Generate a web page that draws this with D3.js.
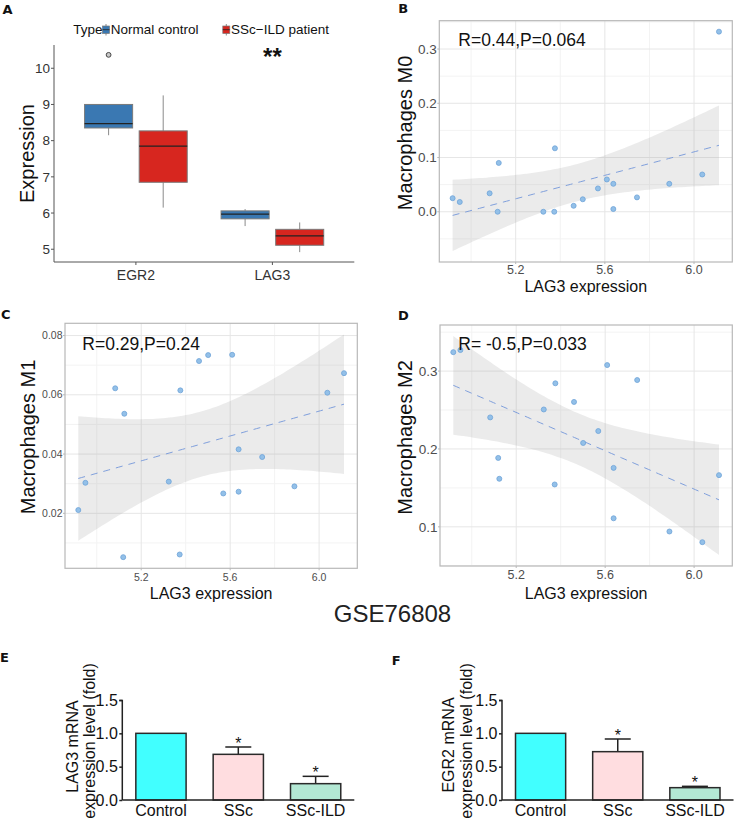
<!DOCTYPE html>
<html><head><meta charset="utf-8">
<script src="https://cdn.jsdelivr.net/npm/d3@7"></script>
<style>
body{margin:0;background:#fff;}
svg{display:block;font-family:"Liberation Sans", Arial, sans-serif;}
</style></head><body>
<svg id="chart" width="736" height="822"></svg>
<script>
// ---------------- DATA ----------------
// Panel A: boxplot summary (order: EGR2-Normal, EGR2-SSc, LAG3-Normal, LAG3-SSc)
const boxGenes = ["EGR2", "LAG3"];
const boxGroups = ["Normal control", "SSc\u2212ILD patient"];
const boxGene = ["EGR2", "EGR2", "LAG3", "LAG3"];
const boxGroup = ["Normal control", "SSc\u2212ILD patient", "Normal control", "SSc\u2212ILD patient"];
const boxLow = [8.15, 6.15, 5.64, 4.92];
const boxQ1 = [8.35, 6.85, 5.84, 5.11];
const boxMedian = [8.47, 7.85, 5.97, 5.37];
const boxQ3 = [9.00, 8.27, 6.06, 5.55];
const boxHigh = [9.00, 9.25, 6.11, 5.74];
const outlierGene = ["EGR2"];
const outlierGroup = ["Normal control"];
const outlierValue = [10.37];
const yTicksA = [5, 6, 7, 8, 9, 10];

// Panels B-D: LAG3 expression vs macrophage fractions (GSE76808)
const lag3Expr = [4.917, 4.949, 5.083, 5.119, 5.124, 5.324, 5.373, 5.376, 5.460, 5.501, 5.569, 5.609, 5.638, 5.638, 5.744, 5.889, 6.037, 6.112];
const macM0 = [0.025, 0.018, 0.034, 0.000, 0.090, 0.000, 0.000, 0.117, 0.011, 0.023, 0.043, 0.0595, 0.0515, 0.005, 0.0265, 0.0515, 0.0687, 0.332];
const macM1 = [0.0211, 0.0303, 0.0622, 0.0052, 0.0536, 0.0307, 0.0061, 0.0615, 0.0714, 0.0734, 0.0267, 0.0735, 0.0416, 0.0273, 0.0390, 0.0291, 0.0607, 0.0673];
const macM2 = [0.3243, 0.3270, 0.2405, 0.1885, 0.1617, 0.2507, 0.1544, 0.2843, 0.2604, 0.2077, 0.2230, 0.3077, 0.1757, 0.1110, 0.2885, 0.0940, 0.0803, 0.1664];
const xTicksScatter = [5.2, 5.6, 6.0];
const xMinorScatter = [5.0, 5.4, 5.8, 6.2];
const yTicksM0 = [0.0, 0.1, 0.2, 0.3];
const yMinorM0 = [-0.05, 0.05, 0.15, 0.25, 0.35];
const yTicksM1 = [0.02, 0.04, 0.06, 0.08];
const yMinorM1 = [0.01, 0.03, 0.05, 0.07];
const yTicksM2 = [0.1, 0.2, 0.3];
const yMinorM2 = [0.05, 0.15, 0.25, 0.35];
const statsText = ["R=0.44,P=0.064", "R=0.29,P=0.24", "R= -0.5,P=0.033"];

// Panels E-F: qPCR fold change
const barCats = ["Control", "SSc", "SSc-ILD"];
const lag3Fold = [1.0, 0.685, 0.245];
const lag3Err = [0, 0.11, 0.11];
const egr2Fold = [1.0, 0.725, 0.185];
const egr2Err = [0, 0.19, 0.02];
const barTicks = [0.0, 0.5, 1.0, 1.5];

// ---------------- DRAW ----------------
const svg = d3.select("#chart");
const colorsA = {"Normal control": "#3a78b2", "SSc\u2212ILD patient": "#d7261f"};
const barColors = ["#41ffff", "#ffdde0", "#b3e8d4"];

function panelLetter(t, x, y) {
  svg.append("text").attr("x", x).attr("y", y).text(t)
    .style("font-family", "'DejaVu Sans', sans-serif").style("font-weight", "bold")
    .style("font-size", "13px").attr("fill", "#111");
}

// ---- Panel A ----
(function () {
  const r = {l: 54, t: 45, r: 354.3, b: 262};
  const g = svg.append("g");
  const all = boxLow.concat(boxHigh, outlierValue);
  const [mn, mx] = d3.extent(all);
  const p = (mx - mn) * 0.05;
  const y = d3.scaleLinear().domain([mn - p, mx + p]).range([r.b, r.t]);
  const x = d3.scalePoint().domain(boxGenes).range([r.l, r.r]).padding(0.6);
  const dodge = d3.scaleBand().domain(boxGroups)
    .range([-0.4 * x.step(), 0.4 * x.step()]).paddingInner(0.12).paddingOuter(0.06);
  const bw = dodge.bandwidth();

  boxGene.forEach((gene, i) => {
    const x0 = x(gene) + dodge(boxGroup[i]);
    const cx = x0 + bw / 2;
    g.append("line").attr("x1", cx).attr("x2", cx).attr("y1", y(boxLow[i])).attr("y2", y(boxQ1[i]))
      .attr("stroke", "#8a8a8a").attr("stroke-width", 1);
    g.append("line").attr("x1", cx).attr("x2", cx).attr("y1", y(boxQ3[i])).attr("y2", y(boxHigh[i]))
      .attr("stroke", "#8a8a8a").attr("stroke-width", 1);
    g.append("rect").attr("x", x0).attr("width", bw).attr("y", y(boxQ3[i]))
      .attr("height", y(boxQ1[i]) - y(boxQ3[i])).attr("fill", colorsA[boxGroup[i]])
      .attr("stroke", "#7a7a7a").attr("stroke-width", 1);
    g.append("line").attr("x1", x0).attr("x2", x0 + bw).attr("y1", y(boxMedian[i])).attr("y2", y(boxMedian[i]))
      .attr("stroke", "#222").attr("stroke-width", 1.3);
  });
  outlierValue.forEach((v, i) => {
    const cx = x(outlierGene[i]) + dodge(outlierGroup[i]) + bw / 2;
    g.append("circle").attr("cx", cx).attr("cy", y(v)).attr("r", 2.4)
      .attr("fill", "#c8c8c8").attr("stroke", "#444").attr("stroke-width", 1);
  });
  // axes
  g.append("line").attr("x1", r.l).attr("x2", r.l).attr("y1", r.t).attr("y2", r.b).attr("stroke", "#555");
  g.append("line").attr("x1", r.l).attr("x2", r.r).attr("y1", r.b).attr("y2", r.b).attr("stroke", "#555");
  yTicksA.forEach(t => {
    g.append("line").attr("x1", r.l - 3).attr("x2", r.l).attr("y1", y(t)).attr("y2", y(t)).attr("stroke", "#555");
    g.append("text").attr("x", r.l - 4).attr("y", y(t)).attr("dy", "0.35em").attr("text-anchor", "end")
      .style("font-size", "13.5px").attr("fill", "#333").text(t);
  });
  boxGenes.forEach(gn => {
    g.append("line").attr("x1", x(gn)).attr("x2", x(gn)).attr("y1", r.b).attr("y2", r.b + 3).attr("stroke", "#555");
    g.append("text").attr("x", x(gn)).attr("y", 280).attr("text-anchor", "middle")
      .style("font-size", "14px").attr("fill", "#333").text(gn);
  });
  g.append("text").attr("transform", `translate(34,${(r.t + r.b) / 2}) rotate(-90)`)
    .attr("text-anchor", "middle").style("font-size", "20px").attr("fill", "#111").text("Expression");
  g.append("text").attr("x", x("LAG3")).attr("y", 65).attr("text-anchor", "middle")
    .style("font-size", "24px").style("font-weight", "bold").attr("fill", "#111").text("**");
  // legend
  g.append("text").attr("x", 73.3).attr("y", 34).style("font-size", "13.5px").attr("fill", "#111").text("Type");
  const leg = [{name: boxGroups[0], x: 102.5}, {name: boxGroups[1], x: 222.8}];
  leg.forEach(d => {
    g.append("line").attr("x1", d.x + 3.5).attr("x2", d.x + 3.5).attr("y1", 24).attr("y2", 35.5).attr("stroke", "#8a8a8a");
    g.append("rect").attr("x", d.x).attr("y", 26).attr("width", 7).attr("height", 7.5)
      .attr("fill", colorsA[d.name]).attr("stroke", "#7a7a7a").attr("stroke-width", 0.7);
    g.append("line").attr("x1", d.x).attr("x2", d.x + 7).attr("y1", 29.7).attr("y2", 29.7).attr("stroke", "#222").attr("stroke-width", 0.8);
    g.append("text").attr("x", d.x + 8.3).attr("y", 34).style("font-size", "13.5px").attr("fill", "#111").text(d.name);
  });
})();
panelLetter("A", 2.5, 13.5);

// ---- Scatter panels ----
function scatterPanel(r, ys, yTicks, yMinor, yFmt, yTickSize, xTickSize, labelGap, yTitle, yTitleX, yTitleY, xTitleY, stat, statX, statY) {
  const g = svg.append("g");
  const xs = lag3Expr;
  const n = xs.length;
  const mx = d3.mean(xs), my = d3.mean(ys);
  let sxx = 0, sxy = 0;
  xs.forEach((xv, i) => { sxx += (xv - mx) ** 2; sxy += (xv - mx) * (ys[i] - my); });
  const b = sxy / sxx, a = my - b * mx;
  let sse = 0;
  xs.forEach((xv, i) => { sse += (ys[i] - (a + b * xv)) ** 2; });
  const s = Math.sqrt(sse / (n - 2));
  const tq = 2.119905;
  const [x0, x1] = d3.extent(xs);
  const band = d3.range(80).map(i => {
    const xv = x0 + (x1 - x0) * i / 79;
    const f = a + b * xv;
    const se = s * Math.sqrt(1 / n + (xv - mx) ** 2 / sxx);
    return {x: xv, f: f, lo: f - tq * se, hi: f + tq * se};
  });
  const yAll = ys.concat(band.map(d => d.lo), band.map(d => d.hi));
  const [ymn, ymx] = d3.extent(yAll);
  const yp = (ymx - ymn) * 0.05, xp = (x1 - x0) * 0.05;
  const x = d3.scaleLinear().domain([x0 - xp, x1 + xp]).range([r.l, r.r]);
  const y = d3.scaleLinear().domain([ymn - yp, ymx + yp]).range([r.b, r.t]);
  const inY = v => v >= y.domain()[0] && v <= y.domain()[1];
  const inX = v => v >= x.domain()[0] && v <= x.domain()[1];

  g.append("rect").attr("x", r.l).attr("y", r.t).attr("width", r.r - r.l).attr("height", r.b - r.t).attr("fill", "#fff");
  yMinor.filter(inY).forEach(v => g.append("line").attr("x1", r.l).attr("x2", r.r).attr("y1", y(v)).attr("y2", y(v)).attr("stroke", "#f3f3f3").attr("stroke-width", 1));
  xMinorScatter.filter(inX).forEach(v => g.append("line").attr("y1", r.t).attr("y2", r.b).attr("x1", x(v)).attr("x2", x(v)).attr("stroke", "#f3f3f3").attr("stroke-width", 1));
  yTicks.filter(inY).forEach(v => g.append("line").attr("x1", r.l).attr("x2", r.r).attr("y1", y(v)).attr("y2", y(v)).attr("stroke", "#e6e6e6").attr("stroke-width", 1));
  xTicksScatter.filter(inX).forEach(v => g.append("line").attr("y1", r.t).attr("y2", r.b).attr("x1", x(v)).attr("x2", x(v)).attr("stroke", "#e6e6e6").attr("stroke-width", 1));

  g.append("path").datum(band)
    .attr("d", d3.area().x(d => x(d.x)).y0(d => y(d.lo)).y1(d => y(d.hi)))
    .attr("fill", "#999").attr("fill-opacity", 0.2);
  g.append("path").datum(band)
    .attr("d", d3.line().x(d => x(d.x)).y(d => y(d.f)))
    .attr("fill", "none").attr("stroke", "#7f9fdc").attr("stroke-width", 1).attr("stroke-dasharray", "7,6");
  xs.forEach((xv, i) => {
    g.append("circle").attr("cx", x(xv)).attr("cy", y(ys[i])).attr("r", 2.5)
      .attr("fill", "#93c0e8").attr("stroke", "#6fa3d8").attr("stroke-width", 0.8);
  });
  g.append("rect").attr("x", r.l).attr("y", r.t).attr("width", r.r - r.l).attr("height", r.b - r.t)
    .attr("fill", "none").attr("stroke", "#b8b8b8").attr("stroke-width", 1.2);

  const fmt = d3.format(yFmt);
  yTicks.filter(inY).forEach(v => {
    g.append("line").attr("x1", r.l - 2).attr("x2", r.l).attr("y1", y(v)).attr("y2", y(v)).attr("stroke", "#b8b8b8");
    g.append("text").attr("x", r.l - 2.5).attr("y", y(v)).attr("dy", "0.35em").attr("text-anchor", "end")
      .style("font-size", yTickSize + "px").attr("fill", "#4d4d4d").text(fmt(v));
  });
  xTicksScatter.filter(inX).forEach(v => {
    g.append("line").attr("y1", r.b).attr("y2", r.b + 2).attr("x1", x(v)).attr("x2", x(v)).attr("stroke", "#b8b8b8");
    g.append("text").attr("x", x(v)).attr("y", r.b + labelGap).attr("dy", "0.35em").attr("text-anchor", "middle")
      .style("font-size", xTickSize + "px").attr("fill", "#4d4d4d").text(d3.format(".1f")(v));
  });
  g.append("text").attr("transform", `translate(${yTitleX},${yTitleY}) rotate(-90)`)
    .attr("text-anchor", "middle").style("font-size", "20px").attr("fill", "#111").text(yTitle);
  g.append("text").attr("x", (r.l + r.r) / 2).attr("y", xTitleY).attr("text-anchor", "middle")
    .style("font-size", "16px").attr("fill", "#111").text("LAG3 expression");
  g.append("text").attr("x", statX).attr("y", statY).style("font-size", "17.5px").attr("fill", "#111").text(stat);
}

scatterPanel({l: 439.3, t: 20.7, r: 732.3, b: 262}, macM0, yTicksM0, yMinorM0, ".1f", 13.5, 12.5, 8,
  "Macrophages M0", 412, 133, 291.5, statsText[0], 458.3, 45.7);
panelLetter("B", 398.3, 12.5);
scatterPanel({l: 65, t: 323.3, r: 357.3, b: 568.3}, macM1, yTicksM1, yMinorM1, ".2f", 10.5, 10.5, 9.4,
  "Macrophages M1", 35, 437, 599, statsText[1], 82.3, 350.3);
panelLetter("C", 1, 318.5);
scatterPanel({l: 440, t: 325, r: 732.3, b: 566}, macM2, yTicksM2, yMinorM2, ".1f", 13.5, 12.5, 8.5,
  "Macrophages M2", 412, 437.5, 599, statsText[2], 458.3, 349.6);
panelLetter("D", 398, 319.5);

svg.append("text").attr("x", 392.5).attr("y", 621.5).attr("text-anchor", "middle")
  .style("font-size", "24px").attr("fill", "#222").text("GSE76808");

// ---- Bar panels ----
function barPanel(xl, xr, vals, errs, line1, line2, b1x, b2x, c1y, c2y) {
  const g = svg.append("g");
  const y = d3.scaleLinear().domain([0, 1.5]).range([800, 700]);
  const x = d3.scaleBand().domain(barCats).range([xl, xr]).paddingInner(0.35).paddingOuter(0.175);
  barCats.forEach((c, i) => {
    const cx = x(c) + x.bandwidth() / 2;
    if (errs[i] > 0) {
      const top = y(vals[i] + errs[i]);
      g.append("line").attr("x1", cx).attr("x2", cx).attr("y1", y(vals[i])).attr("y2", top).attr("stroke", "#222").attr("stroke-width", 1.5);
      g.append("line").attr("x1", cx - 13).attr("x2", cx + 13).attr("y1", top).attr("y2", top).attr("stroke", "#222").attr("stroke-width", 1.5);
      g.append("text").attr("x", cx).attr("y", top + 2).attr("text-anchor", "middle")
        .style("font-size", "16px").attr("fill", "#111").text("*");
    }
    g.append("rect").attr("x", x(c)).attr("width", x.bandwidth()).attr("y", y(vals[i]))
      .attr("height", y(0) - y(vals[i])).attr("fill", barColors[i]).attr("stroke", "#2a2a2a").attr("stroke-width", 1.5);
    g.append("text").attr("x", cx).attr("y", 815.5).attr("text-anchor", "middle")
      .style("font-size", "16px").attr("fill", "#111").text(c);
  });
  const ax = g.append("g").attr("transform", `translate(${xl},0)`)
    .call(d3.axisLeft(y).tickValues(barTicks).tickFormat(d3.format(".1f")).tickSize(3).tickPadding(1.5));
  ax.select(".domain").attr("stroke", "#222").attr("stroke-width", 1.5).attr("d", "M-3,700.5H0V800");
  ax.selectAll(".tick line").attr("stroke", "#222").attr("stroke-width", 1.5);
  ax.selectAll(".tick text").style("font-size", "16px").style("font-family", "'Liberation Sans', Arial, sans-serif").attr("fill", "#111");
  g.append("line").attr("x1", xl).attr("x2", xr).attr("y1", 800).attr("y2", 800).attr("stroke", "#222").attr("stroke-width", 1.5);
  g.append("text").attr("transform", `translate(${b1x},${c1y}) rotate(-90)`).attr("text-anchor", "middle")
    .style("font-size", "16px").attr("fill", "#111").text(line1);
  g.append("text").attr("transform", `translate(${b2x},${c2y}) rotate(-90)`).attr("text-anchor", "middle")
    .style("font-size", "16px").attr("fill", "#111").text(line2);
}
barPanel(122.3, 354.3, lag3Fold, lag3Err, "LAG3 mRNA", "expression level (fold)", 78, 95, 746.5, 741);
panelLetter("E", 0, 662);
barPanel(502, 733.5, egr2Fold, egr2Err, "EGR2 mRNA", "expression level (fold)", 454, 472, 745, 741);
panelLetter("F", 391.7, 665);
</script>
</body></html>
